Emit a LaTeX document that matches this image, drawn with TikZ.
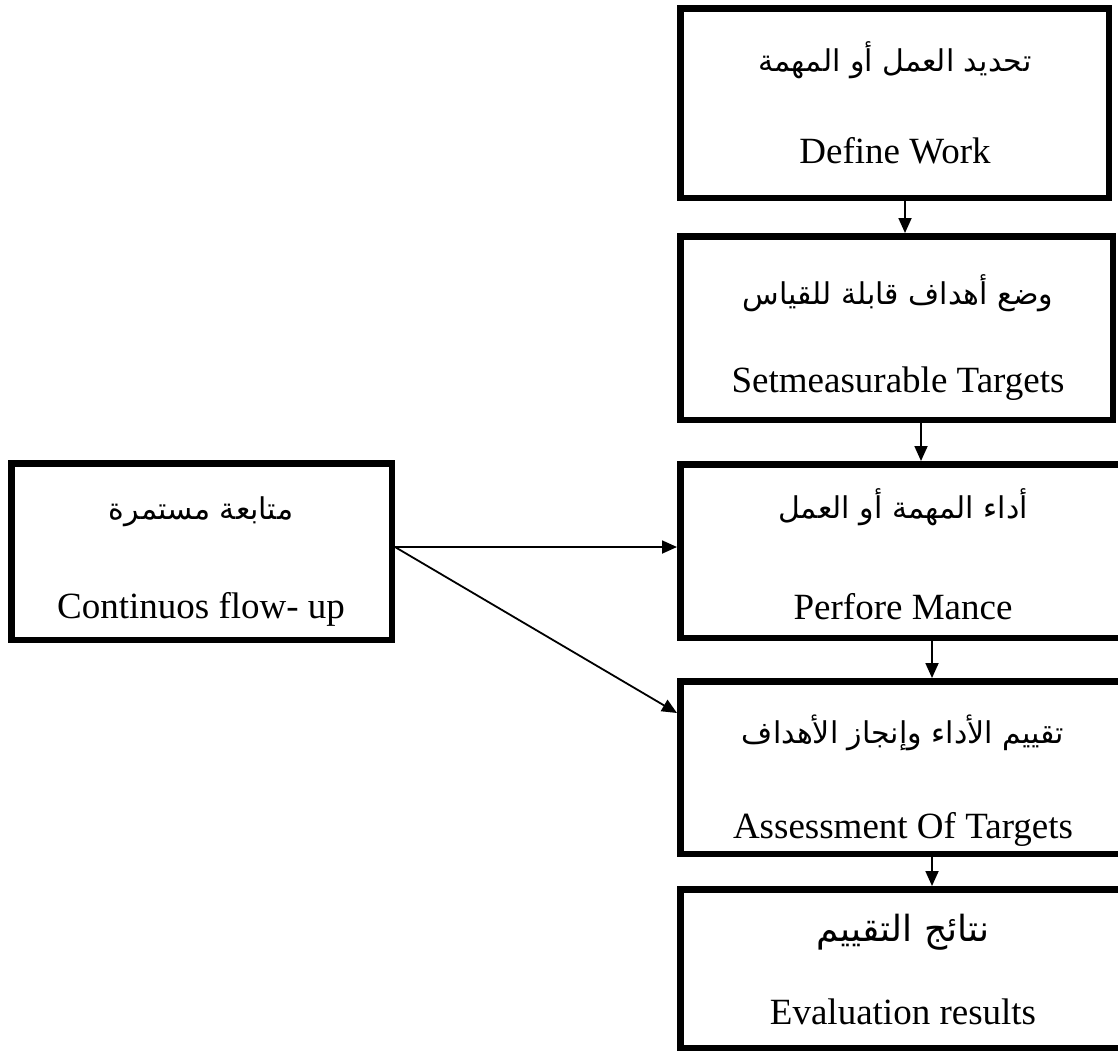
\documentclass[tikz,border=0pt]{standalone}
\usepackage{fontspec}
\setmainfont{Liberation Serif}
\newfontfamily\arabicfont[Script=Arabic]{DejaVu Sans}
\TeXXeTstate=1
\usetikzlibrary{arrows.meta}
\NewDocumentCommand\rtl{m}{\beginR #1\endR}

\begin{document}
\begin{tikzpicture}[x=1pt,y=-1pt,
    box/.style={draw,line width=6.5pt,inner sep=0pt},
    en/.style={anchor=base,inner sep=0pt,font=\fontsize{37}{44}\selectfont},
    ar/.style={inner sep=0pt,font=\arabicfont\fontsize{30}{36}\selectfont},
    arr/.style={-{Triangle[length=15pt,width=13pt]},line width=1.8pt}]
      \useasboundingbox (0,0) rectangle (1118,1053);
      \clip (0,0) rectangle (1118,1053);
      % steps on the right
      \node[box,minimum width=428.5pt,minimum height=189.5pt] (define) at (894.5,103) {};
      \node[box,minimum width=432.5pt,minimum height=183.5pt] (target) at (896.5,328) {};
      \node[box,minimum width=445.5pt,minimum height=173.5pt] (perform) at (903,551) {};
      \node[box,minimum width=445.5pt,minimum height=172.5pt] (assess) at (903,767.5) {};
      \node[box,minimum width=445.5pt,minimum height=158.5pt] (result) at (903,968.5) {};
      % follow-up on the left
      \node[box,minimum width=380.5pt,minimum height=176.5pt] (follow) at (201.5,551.5) {};

      \node[ar] (defineAr) at (895,60) {\rtl{تحديد العمل أو المهمة}};
      \node[en] (defineEn) at (895,163) {Define Work};
      \node[ar] (targetAr) at (898,293) {\rtl{وضع أهداف قابلة للقياس}};
      \node[en] (targetEn) at (898,392) {Setmeasurable Targets};
      \node[ar] (performAr) at (903,507) {\rtl{أداء المهمة أو العمل}};
      \node[en] (performEn) at (903,619) {Perfore Mance};
      \node[ar] (assessAr) at (903,733) {\rtl{تقييم الأداء وإنجاز الأهداف}};
      \node[en] (assessEn) at (903,838) {Assessment Of Targets};
      \node[ar,font=\arabicfont\fontsize{36}{42}\selectfont] (resultAr) at (903,932) {\rtl{نتائج التقييم}};
      \node[en] (resultEn) at (903,1024) {Evaluation results};
      \node[ar] (followAr) at (201,512) {\rtl{متابعة مستمرة}};
      \node[en] (followEn) at (201,618) {Continuos flow- up};

      \draw[arr] ([xshift=10.5pt]define.south) -- ([xshift=10.5pt]define.south |- target.north);
      \draw[arr] ([xshift=24.5pt]target.south) -- ([xshift=24.5pt]target.south |- perform.north);
      \draw[arr] ([xshift=29pt]perform.south) -- ([xshift=29pt]perform.south |- assess.north);
      \draw[arr] ([xshift=29pt]assess.south) -- ([xshift=29pt]assess.south |- result.north);
      \draw[arr] ([yshift=4.5pt]follow.east) -- ([yshift=4.5pt]follow.east -| perform.west);
      \draw[arr] ([yshift=4.5pt]follow.east) -- ([yshift=54.5pt]assess.west);
\end{tikzpicture}
\end{document}
